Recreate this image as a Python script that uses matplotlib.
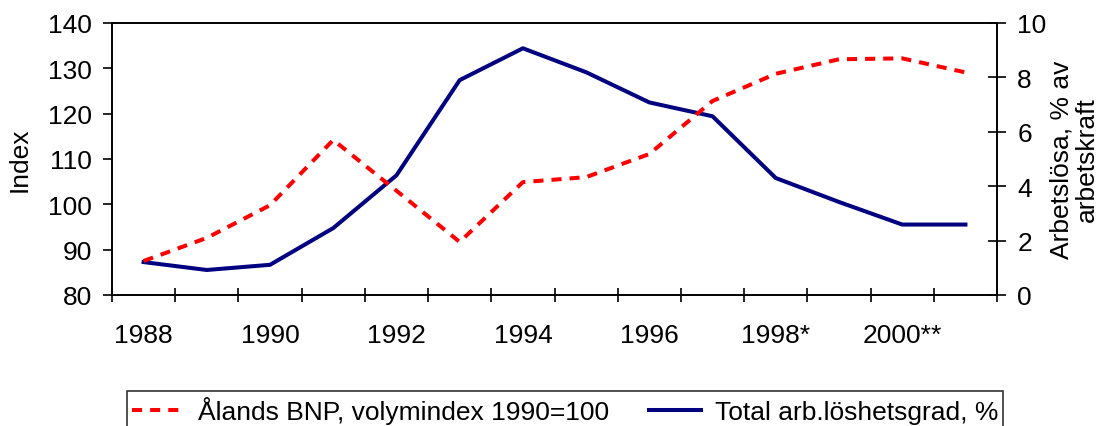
import matplotlib
matplotlib.use("Agg")
import matplotlib.pyplot as plt
from matplotlib.lines import Line2D

plt.rcParams['font.family'] = ['Liberation Sans', 'DejaVu Sans']
plt.rcParams['font.size'] = 19

# categories (one per year), only every other one labelled
years = ['1988', '1989', '1990', '1991', '1992', '1993', '1994',
         '1995', '1996', '1997', '1998*', '1999', '2000**', '2001']
# Ålands BNP, volymindex 1990=100
bnp = [87.5, 92.6, 99.8, 114.2, 103.0, 91.7, 104.9,
       106.0, 111.1, 122.8, 128.8, 132.0, 132.2, 129.1]
# Total arbetslöshetsgrad, %
unemp = [1.21, 0.92, 1.11, 2.46, 4.4, 7.9, 9.07,
         8.19, 7.08, 6.57, 4.3, 3.42, 2.59, 2.59]

x = list(range(len(years)))
LW = 2.9
DASH = (0, (2.5, 2.0))

fig = plt.figure(figsize=(11, 4.27), dpi=100)
ax = fig.add_axes([0.1018, 0.3068, 0.8046, 0.637])
ax2 = ax.twinx()

ax.plot(x, bnp, color='#ff0000', lw=LW, ls=DASH, dash_capstyle='butt')
ax2.plot(x, unemp, color='#000080', lw=LW)

# red line drawn above the blue one
ax.set_zorder(ax2.get_zorder() + 1)
ax.patch.set_visible(False)

ax.set_xlim(-0.5, len(years) - 0.5)
ax.set_ylim(80, 140)
ax.set_yticks(range(80, 141, 10))
ax2.set_ylim(0, 10)
ax2.set_yticks(range(0, 11, 2))

# ticks on category boundaries, labels at the centres
ax.set_xticks([i - 0.5 for i in range(len(years) + 1)])
ax.set_xticklabels([])
ax.set_xticks(x[::2], minor=True)
ax.set_xticklabels(years[::2], minor=True)
ax.tick_params(axis='x', which='major', direction='inout', length=9.5, width=1.2)
ax.tick_params(axis='x', which='minor', length=0, pad=20)
ax.tick_params(axis='y', direction='out', length=6.5, width=1.2, pad=8)
ax2.tick_params(axis='y', direction='inout', length=13, width=1.2, pad=8)

for a in (ax, ax2):
    for s in a.spines.values():
        s.set_linewidth(1.2)
        s.set_color('black')

ax.set_ylabel('Index', labelpad=12)
ax2.set_ylabel('Arbetslösa, % av\narbetskraft', labelpad=2, linespacing=1.1)

handles = [Line2D([], [], color='#ff0000', lw=LW, ls=DASH),
           Line2D([], [], color='#000080', lw=LW)]
labels = ['Ålands BNP, volymindex 1990=100', 'Total arb.löshetsgrad, %']
leg = fig.legend(handles, labels, loc='upper center', bbox_to_anchor=(0.5136, 0.083),
                 ncol=2, frameon=True, fancybox=False, edgecolor='black',
                 handlelength=2.0, handletextpad=0.5, columnspacing=1.5,
                 borderpad=0.2, borderaxespad=0)
leg.get_frame().set_linewidth(1.2)

fig.savefig('out.png', dpi=100)
